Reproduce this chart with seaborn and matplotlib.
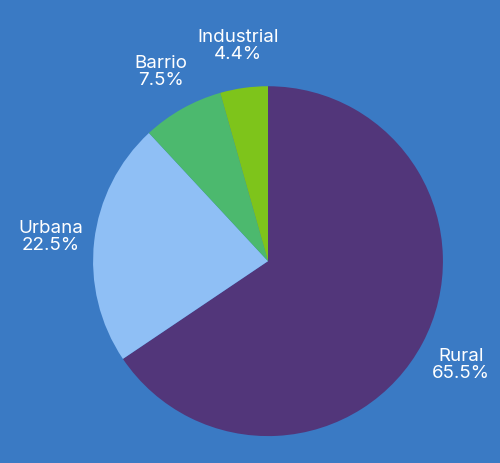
import matplotlib
matplotlib.use("Agg")
import matplotlib.pyplot as plt
import seaborn as sns

sns.set_theme(style="white")
plt.rcParams['font.family'] = ['Inter', 'DejaVu Sans']

categories = ["Rural", "Urbana", "Barrio", "Industrial"]
values = [65.5, 22.5, 7.5, 4.4]
colors = ["#52367a", "#8fbff5", "#4cb96e", "#7ec41b"]
bg = "#3a7ac4"

fig = plt.figure(figsize=(5, 4.64), dpi=100, facecolor=bg)
ax = fig.add_axes([0.186, 0.058, 0.7, 0.754])
ax.set_facecolor(bg)
labels = [f"{c}\n{v}%" for c, v in zip(categories, values)]
wedges, texts = ax.pie(values, colors=colors, startangle=90, counterclock=False,
                       labels=labels, labeldistance=1.25,
                       wedgeprops=dict(linewidth=0),
                       textprops=dict(color="white", fontsize=13.5, linespacing=1.0))
for t in texts:
    t.set_ha("center")
    t.set_va("center")
    t.set_clip_on(False)
ax.set_xlim(-1, 1)
ax.set_ylim(-1, 1)
ax.set_aspect("equal")
ax.axis("off")
fig.savefig("out.png", dpi=100, facecolor=bg)
